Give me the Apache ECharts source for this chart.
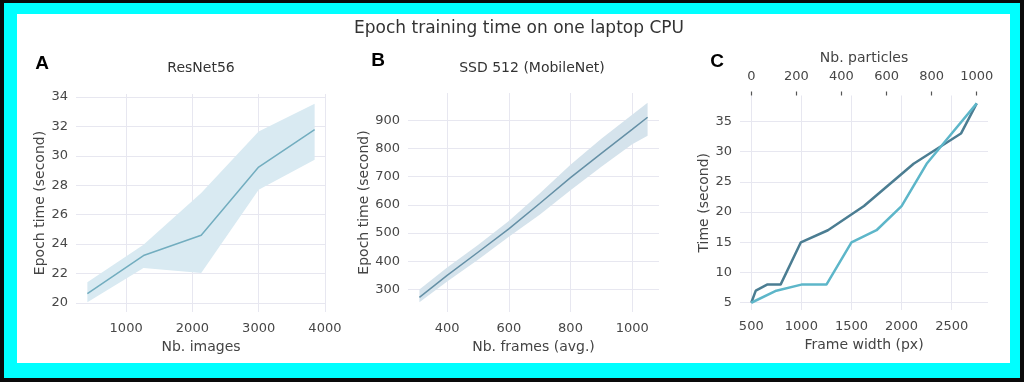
<!doctype html>
<html lang="en">
<head>
    <meta charset="UTF-8">
    <title>Epoch training time</title>
    <style>
        html, body { margin: 0; padding: 0; }
        #main { width: 1024px; height: 382px; }
    </style>
    <script src="https://cdn.jsdelivr.net/npm/echarts@6/dist/echarts.min.js"></script>
</head>
<body>
    <div id="main"></div>
    <script>
        // A: ResNet56
        var aX = [415, 1262, 2133, 3000, 3845];
        var aMean = [20.63, 23.22, 24.6, 29.24, 31.78];
        var aUpper = [21.4, 23.96, 27.47, 31.66, 33.54];
        var aLower = [20.05, 22.38, 22.04, 27.7, 29.74];
        var aXTicks = [1000, 2000, 3000, 4000];
        var aYTicks = [20, 22, 24, 26, 28, 30, 32, 34];

        // B: SSD 512 (MobileNet)
        var bX = [310, 400, 500, 600, 700, 800, 900, 1000, 1050];
        var bMean = [272, 350, 432, 515, 605, 697, 783, 868, 911];
        var bUpper = [300, 378, 458, 543, 640, 742, 835, 920, 962];
        var bLower = [255, 328, 405, 487, 565, 652, 735, 815, 845];
        var bXTicks = [400, 600, 800, 1000];
        var bYTicks = [300, 400, 500, 600, 700, 800, 900];

        // C: frame width / particles
        var cTime = [5, 7, 8, 8, 15, 17, 21, 28, 33, 38];
        var cWidth = [500, 750, 1000, 1250, 1500, 1750, 2000, 2250, 2500, 2750];
        var cParticles = [0, 20, 70, 130, 220, 340, 500, 720, 930, 1000];
        var cXTicks = [500, 1000, 1500, 2000, 2500];
        var cTopTicks = [0, 200, 400, 600, 800, 1000];
        var cYTicks = [5, 10, 15, 20, 25, 30, 35];

        var FONT = 'DejaVu Sans';
        var GRID = '#e7e7f0';
        var LABEL = '#474747';

        function pairs(xs, ys) {
            return xs.map(function (x, i) { return [x, ys[i]]; });
        }

        function band(xs, lo, hi, color) {
            return function (params, api) {
                var pts = [];
                for (var i = 0; i < xs.length; i++) pts.push(api.coord([xs[i], hi[i]]));
                for (var j = xs.length - 1; j >= 0; j--) pts.push(api.coord([xs[j], lo[j]]));
                return { type: 'polygon', shape: { points: pts }, style: { fill: color } };
            };
        }

        function fmt(v) { return String(v); }

        function valueAxis(opt) {
            return {
                type: 'value',
                gridIndex: opt.grid,
                min: opt.min,
                max: opt.max,
                position: opt.position,
                name: opt.name,
                nameLocation: 'middle',
                nameGap: opt.nameGap,
                nameRotate: opt.nameRotate,
                nameTextStyle: { fontFamily: FONT, fontSize: 14, color: '#444' },
                axisLine: { show: false },
                axisTick: { show: !!opt.tick, length: 4, lineStyle: { color: '#555', width: 1.2 }, customValues: opt.ticks },
                axisLabel: { customValues: opt.ticks, formatter: fmt, fontFamily: FONT, fontSize: 13, color: LABEL, margin: opt.margin || 8 },
                splitLine: { show: opt.split !== false, lineStyle: { color: GRID, width: 1 } }
            };
        }

        function label(text, x, y, font, color) {
            return {
                type: 'text', x: x, y: y,
                style: { text: text, font: font, fill: color, align: 'center', verticalAlign: 'middle', textAlign: 'center', textVerticalAlign: 'middle' }
            };
        }

        var chart = echarts.init(document.getElementById('main'));

        var option = {
            animation: false,
            backgroundColor: '#0a0a0a',
            grid: [
                { left: 76, top: 94, width: 250, height: 218 },
                { left: 408, top: 93, width: 251, height: 219 },
                { left: 740, top: 95.5, width: 248, height: 214.5 }
            ],
            xAxis: [
                valueAxis({ grid: 0, min: 243.5, max: 4016.5, ticks: aXTicks, name: 'Nb. images', nameGap: 25, margin: 10 }),
                valueAxis({ grid: 1, min: 273, max: 1087, ticks: bXTicks, name: 'Nb. frames (avg.)', nameGap: 25, margin: 10 }),
                valueAxis({ grid: 2, min: 387.5, max: 2862.5, ticks: cXTicks, name: 'Frame width (px)', nameGap: 25, margin: 10 }),
                valueAxis({ grid: 2, min: -50, max: 1050, ticks: cTopTicks, position: 'top', name: 'Nb. particles', nameGap: 24, margin: 12, tick: true, split: false })
            ],
            yAxis: [
                valueAxis({ grid: 0, min: 19.38, max: 34.21, ticks: aYTicks, name: 'Epoch time (second)', nameGap: 27, nameRotate: 90 }),
                valueAxis({ grid: 1, min: 220, max: 997, ticks: bYTicks, name: 'Epoch time (second)', nameGap: 37, nameRotate: 90 }),
                valueAxis({ grid: 2, min: 3.8, max: 39.3, ticks: cYTicks, name: 'Time (second)', nameGap: 27, nameRotate: 90 })
            ],
            graphic: [
                { type: 'rect', z: -10, shape: { x: 4, y: 3, width: 1016, height: 375 }, style: { fill: '#00ffff' } },
                { type: 'rect', z: -9, shape: { x: 17, y: 14, width: 993, height: 349 }, style: { fill: '#ffffff' } },
                label('Epoch training time on one laptop CPU', 519, 29, '17px "DejaVu Sans"', '#333'),
                label('A', 42, 64, 'bold 19px "Liberation Sans"', '#000'),
                label('B', 378, 61, 'bold 19px "Liberation Sans"', '#000'),
                label('C', 717, 62, 'bold 19px "Liberation Sans"', '#000'),
                label('ResNet56', 201, 68, '14px "DejaVu Sans"', '#333'),
                label('SSD 512 (MobileNet)', 532, 68, '14px "DejaVu Sans"', '#333')
            ],
            series: [
                { type: 'custom', xAxisIndex: 0, yAxisIndex: 0, silent: true, z: 1, renderItem: band(aX, aLower, aUpper, '#d9eaf2'), data: [[aX[0], aLower[0]]] },
                { type: 'line', xAxisIndex: 0, yAxisIndex: 0, z: 3, showSymbol: false, data: pairs(aX, aMean), lineStyle: { color: '#72adbf', width: 1.5 } },
                { type: 'custom', xAxisIndex: 1, yAxisIndex: 1, silent: true, z: 1, renderItem: band(bX, bLower, bUpper, '#d5e3ec'), data: [[bX[0], bLower[0]]] },
                { type: 'line', xAxisIndex: 1, yAxisIndex: 1, z: 3, showSymbol: false, data: pairs(bX, bMean), lineStyle: { color: '#6590a6', width: 1.5 } },
                { type: 'line', xAxisIndex: 3, yAxisIndex: 2, z: 3, showSymbol: false, data: pairs(cParticles, cTime), lineStyle: { color: '#4b7d92', width: 2.5 } },
                { type: 'line', xAxisIndex: 2, yAxisIndex: 2, z: 3, showSymbol: false, data: pairs(cWidth, cTime), lineStyle: { color: '#5db6c9', width: 2.5 } }
            ]
        };

        chart.setOption(option);
    </script>
</body>
</html>
